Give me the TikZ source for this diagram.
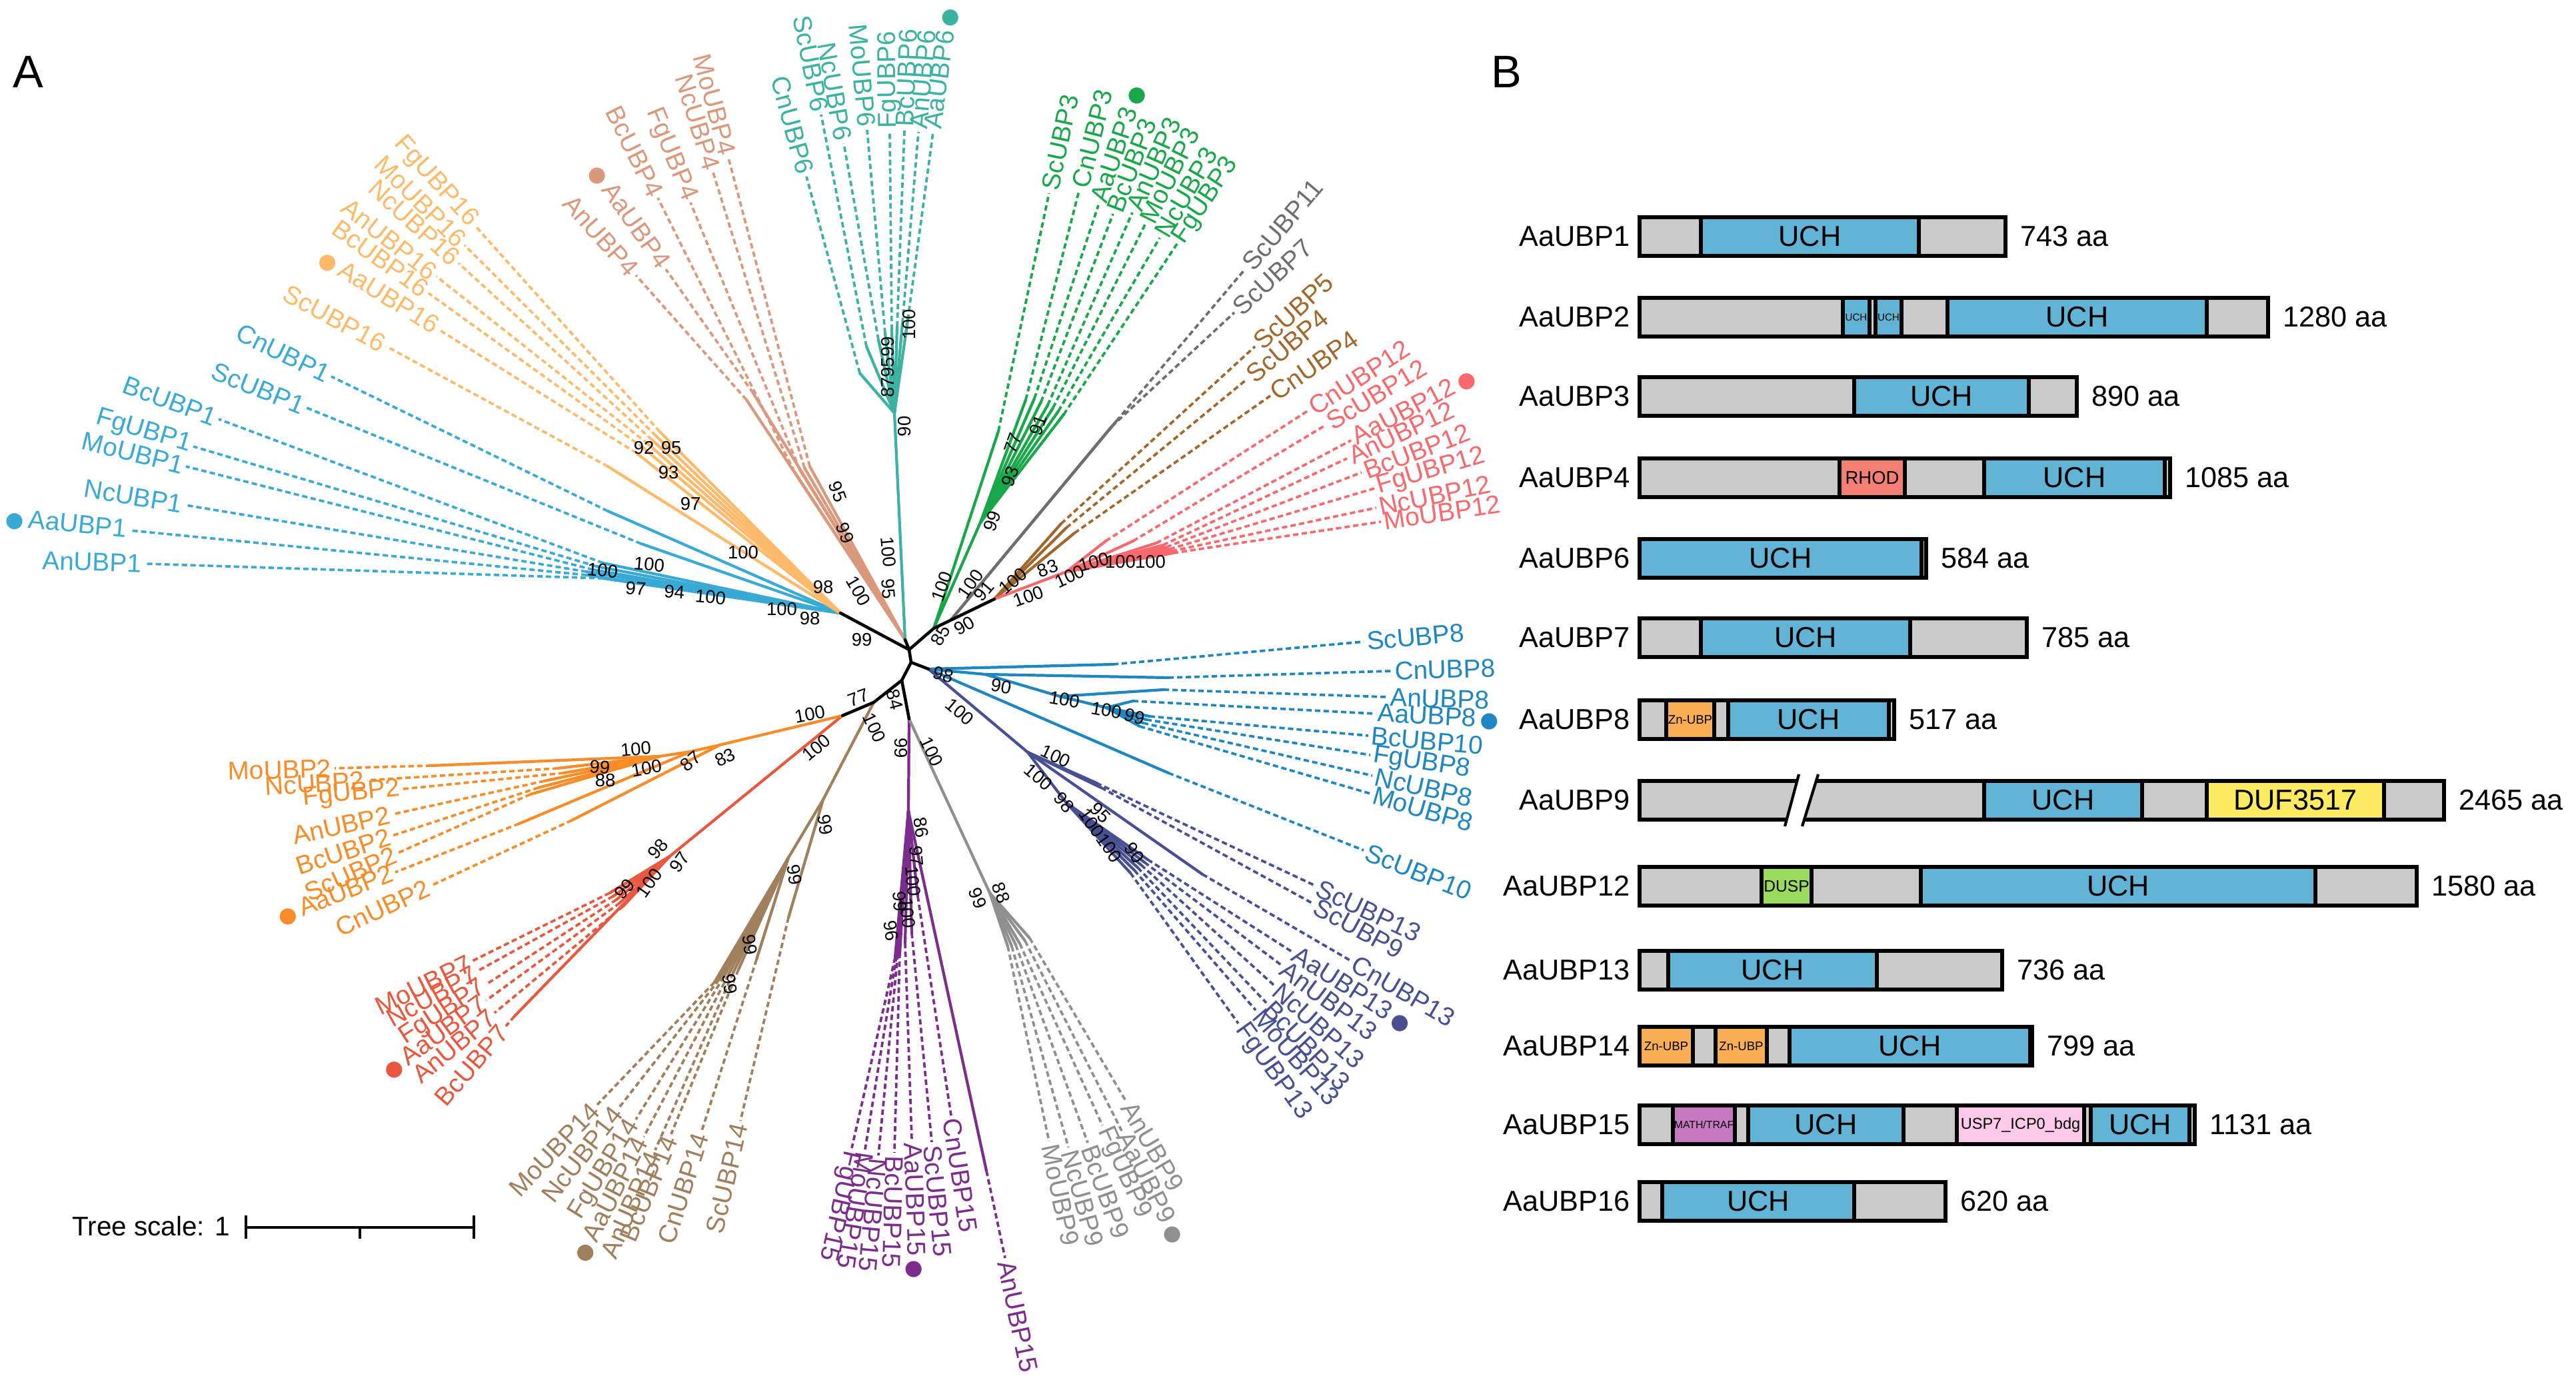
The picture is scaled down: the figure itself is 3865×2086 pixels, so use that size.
\documentclass[tikz,border=0pt]{standalone}
\usepackage{fontspec}
\setmainfont{Liberation Sans}
\newfontfamily\djv{DejaVu Sans}
\usetikzlibrary{calc}
\definecolor{c1}{HTML}{39AAD6}
\definecolor{c16}{HTML}{FDBA6B}
\definecolor{c4}{HTML}{DA987C}
\definecolor{c6}{HTML}{3CB2A0}
\definecolor{c3}{HTML}{18A84A}
\definecolor{c11}{HTML}{6E6E6E}
\definecolor{c5}{HTML}{A0682C}
\definecolor{c12}{HTML}{F8686C}
\definecolor{c8}{HTML}{1E86C1}
\definecolor{c13}{HTML}{495091}
\definecolor{c15}{HTML}{7B2C8C}
\definecolor{c9}{HTML}{8F8F8F}
\definecolor{c14}{HTML}{A0805C}
\definecolor{c7}{HTML}{E8583E}
\definecolor{c2}{HTML}{F88C28}
\definecolor{uch}{HTML}{62B4D6}
\definecolor{gr}{HTML}{CBCBCB}
\definecolor{rhod}{HTML}{F47F72}
\definecolor{znubp}{HTML}{F9AE54}
\definecolor{duf}{HTML}{FCEB62}
\definecolor{dusp}{HTML}{9ADB5C}
\definecolor{math}{HTML}{C77AC2}
\definecolor{usp}{HTML}{FDC9E9}
\newcounter{bsc}
\newcounter{sg}
\newcommand\dotc{{\djv\fontsize{9}{9}\selectfont ●}}
\tikzset{
  br/.style={line width=1.2pt, line cap=round},
  blk/.style={line width=1.3pt, black, line cap=round},
  dsh/.style={line width=1.05pt, dash pattern=on 2.3pt off 1.4pt},
  lab/.style={font=\fontsize{11}{11}\selectfont, inner sep=1.2pt},
  bs/.style={font=\fontsize{7.8}{7.8}\selectfont, inner sep=0pt},
  bl/.style={font=\fontsize{12.3}{12.3}\selectfont, inner sep=0pt},
  bar/.style={draw=black, line width=1.5pt},
}
% right-side leaf: colour, text, tip, label point, dot flag
\newcommand\lfR[5]{%
  \coordinate (t#2) at (#3); \coordinate (l#2) at (#4);
  \draw[#1,dsh] (t#2) -- (l#2);
  \path let \p1=($(l#2)-(t#2)$), \n1={atan2(\y1,\x1)} in
    node[lab,text=#1,anchor=west,rotate=\n1] (n#2) at (l#2) {#2\ifnum#5=1\,\dotc\fi};
}
% left-side leaf
\newcommand\lfL[5]{%
  \coordinate (t#2) at (#3); \coordinate (l#2) at (#4);
  \draw[#1,dsh] (t#2) -- (l#2);
  \path let \p1=($(l#2)-(t#2)$), \n1={atan2(\y1,\x1)+180} in
    node[lab,text=#1,anchor=east,rotate=\n1] (n#2) at (l#2) {\ifnum#5=1\dotc\,\fi#2};
}
\newcommand\bst[3]{\stepcounter{bsc}\node[bs,rotate=#2] (bs\arabic{bsc}) at (#1) {#3};}
\newcommand\seg[6]{\stepcounter{sg}\draw[bar,fill=#4] (#1,#3-29) rectangle (#2,#3+29);
  \node[inner sep=0pt,font=\fontsize{#6}{#6}\selectfont] (sg\arabic{sg}) at ({(#1+#2)/2},#3) {#5};}
\newcommand\prow[4]{%
  \node[bl,anchor=east] (B#1) at (2446,#2) {#1};
  \draw[bar,fill=gr] (2460,#2-29) rectangle (#3,#2+29);
  \node[bl,anchor=west] (aa#1) at ({#3+22},#2) {#4};}
\begin{document}
\begin{tikzpicture}[x=0.01cm,y=-0.01cm]
\useasboundingbox (0,0) rectangle (3865,2086);
\fill[white] (0,0) rectangle (3865,2086);
\node[font=\fontsize{19.5}{20}\selectfont, inner sep=0pt] (pA) at (42,108) {A};
\node[font=\fontsize{19.5}{20}\selectfont, inner sep=0pt] (pB) at (2260,108) {B};

% ---------------- internal nodes
\coordinate (A) at (1364,975);
\coordinate (B) at (1367,994);
\coordinate (UL) at (1261,920);
\coordinate (ST) at (1358,960);
\coordinate (G) at (1401,943);
\coordinate (GP) at (1427,930);
\coordinate (P) at (1492,899);
\coordinate (N8) at (1393,1004);
\coordinate (N84) at (1353,1021);
\coordinate (N77) at (1311,1054);
\coordinate (OR) at (1264,1074);
\coordinate (PG) at (1364,1079);
\coordinate (T6) at (1342,620);
\coordinate (G1) at (1471,784);
\coordinate (P1) at (1600,858);
\coordinate (B1) at (1478,1012);
\coordinate (B2) at (1590,1045);
\coordinate (B3) at (1660,1062);
\coordinate (M1) at (1542,1129);
\coordinate (M2) at (1600,1205);
\coordinate (U1) at (1363,1217);
\coordinate (Q9) at (1485,1340);
\coordinate (Q14) at (1235,1200);
\coordinate (Q14b) at (1183,1287);
\coordinate (R1) at (1005,1285);
\coordinate (O1) at (1080,1118);
\coordinate (O2) at (1036,1128);
\coordinate (O3) at (990,1135);

% ---------------- leaves
% UBP1
\lfL{c1}{CnUBP1}{912,767}{497,565}{0}
\lfL{c1}{ScUBP1}{962,816}{460,612}{0}
\lfL{c1}{BcUBP1}{905,845}{328,629}{0}
\lfL{c1}{FgUBP1}{895,850}{290,670}{0}
\lfL{c1}{MoUBP1}{890,855}{279,700}{0}
\lfL{c1}{NcUBP1}{880,858}{278,758}{0}
\lfL{c1}{AaUBP1}{880,863}{195,796}{1}
\lfL{c1}{AnUBP1}{905,868}{217,846}{0}
% UBP16
\lfL{c16}{FgUBP16}{990,648}{713,339}{0}
\lfL{c16}{MoUBP16}{984,654}{697,368}{0}
\lfL{c16}{NcUBP16}{978,660}{688,395}{0}
\lfL{c16}{AnUBP16}{972,666}{655,415}{0}
\lfL{c16}{BcUBP16}{965,672}{643,440}{0}
\lfL{c16}{AaUBP16}{955,680}{659,495}{1}
\lfL{c16}{ScUBP16}{912,700}{580,520}{0}
% UBP4
\lfL{c4}{MoUBP4}{1215,700}{1093,237}{0}
\lfL{c4}{NcUBP4}{1207,702}{1070,259}{0}
\lfL{c4}{FgUBP4}{1200,705}{1036,304}{0}
\lfL{c4}{BcUBP4}{1192,708}{987,297}{0}
\lfL{c4}{AaUBP4}{1130,590}{999,404}{1}
\lfL{c4}{AnUBP4}{1120,600}{954,413}{0}
% UBP6
\lfL{c6}{ScUBP6}{1300,520}{1232,172}{0}
\lfL{c6}{CnUBP6}{1290,560}{1210,265}{0}
\lfL{c6}{NcUBP6}{1318,510}{1266,215}{0}
\lfL{c6}{MoUBP6}{1328,500}{1301,195}{0}
\lfR{c6}{FgUBP6}{1338,495}{1335,198}{0}
\lfR{c6}{BcUBP6}{1346,490}{1357,195}{0}
\lfR{c6}{AnUBP6}{1354,485}{1378,198}{0}
\lfR{c6}{AaUBP6}{1362,480}{1400,198}{1}
% UBP3
\lfR{c3}{ScUBP3}{1498,647}{1574,290}{0}
\lfR{c3}{CnUBP3}{1539,600}{1619,286}{0}
\lfR{c3}{AaUBP3}{1552,598}{1648,308}{1}
\lfR{c3}{BcUBP3}{1562,603}{1670,321}{0}
\lfR{c3}{AnUBP3}{1572,608}{1699,319}{0}
\lfR{c3}{MoUBP3}{1580,612}{1718,337}{0}
\lfR{c3}{NcUBP3}{1588,617}{1740,357}{0}
\lfR{c3}{FgUBP3}{1596,622}{1766,366}{0}
% UBP11/7
\lfR{c11}{ScUBP11}{1675,632}{1868,404}{0}
\lfR{c11}{ScUBP7}{1668,640}{1852,469}{0}
% UBP5/4
\lfR{c5}{ScUBP5}{1592,786}{1883,520}{0}
\lfR{c5}{ScUBP4}{1600,792}{1871,569}{0}
\lfR{c5}{CnUBP4}{1612,800}{1906,594}{0}
% UBP12
\lfR{c12}{CnUBP12}{1659,812}{1963,616}{0}
\lfR{c12}{ScUBP12}{1700,812}{1989,638}{0}
\lfR{c12}{AaUBP12}{1735,815}{2027,661}{1}
\lfR{c12}{AnUBP12}{1745,818}{2021,688}{0}
\lfR{c12}{BcUBP12}{1750,821}{2043,709}{0}
\lfR{c12}{FgUBP12}{1755,824}{2062,733}{0}
\lfR{c12}{NcUBP12}{1758,827}{2065,762}{0}
\lfR{c12}{MoUBP12}{1760,830}{2072,783}{0}
% UBP8
\lfR{c8}{ScUBP8}{1670,997}{2046,963}{0}
\lfR{c8}{CnUBP8}{1753,1017}{2088,1007}{0}
\lfR{c8}{AnUBP8}{1746,1035}{2081,1046}{0}
\lfR{c8}{AaUBP8}{1700,1052}{2062,1071}{1}
\lfR{c8}{BcUBP10}{1725,1075}{2053,1104}{0}
\lfR{c8}{FgUBP8}{1720,1080}{2056,1133}{0}
\lfR{c8}{NcUBP8}{1715,1085}{2059,1164}{0}
\lfR{c8}{MoUBP8}{1710,1090}{2056,1191}{0}
\lfR{c8}{ScUBP10}{1753,1160}{2046,1276}{0}
% UBP13
\lfR{c13}{ScUBP13}{1645,1175}{1973,1329}{0}
\lfR{c13}{ScUBP9}{1652,1182}{1970,1356}{0}
\lfR{c13}{CnUBP13}{1804,1312}{2027,1442}{0}
\lfR{c13}{AaUBP13}{1722,1290}{1938,1428}{1}
\lfR{c13}{AnUBP13}{1717,1294}{1922,1448}{0}
\lfR{c13}{NcUBP13}{1712,1298}{1912,1479}{0}
\lfR{c13}{BcUBP13}{1707,1302}{1900,1505}{0}
\lfR{c13}{MoUBP13}{1702,1306}{1884,1516}{0}
\lfR{c13}{FgUBP13}{1696,1310}{1858,1536}{0}
% UBP15
\lfR{c15}{FgUBP15}{1343,1437}{1278,1723}{0}
\lfR{c15}{MoUBP15}{1345,1435}{1298,1725}{0}
\lfR{c15}{NcUBP15}{1347,1432}{1318,1734}{0}
\lfR{c15}{BcUBP15}{1350,1430}{1342,1730}{0}
\lfR{c15}{AaUBP15}{1358,1415}{1368,1710}{1}
\lfR{c15}{ScUBP15}{1368,1400}{1398,1714}{0}
\lfR{c15}{CnUBP15}{1377,1345}{1427,1674}{0}
\lfR{c15}{AnUBP15}{1480,1757}{1508,1888}{0}
% UBP9
\lfR{c9}{MoUBP9}{1512,1420}{1574,1713}{0}
\lfR{c9}{NcUBP9}{1518,1420}{1603,1722}{0}
\lfR{c9}{BcUBP9}{1524,1418}{1632,1715}{0}
\lfR{c9}{FgUBP9}{1530,1416}{1654,1689}{0}
\lfR{c9}{AaUBP9}{1538,1412}{1683,1697}{1}
\lfR{c9}{AnUBP9}{1545,1408}{1689,1652}{0}
% UBP14
\lfL{c14}{ScUBP14}{1183,1377}{1111,1682}{0}
\lfL{c14}{CnUBP14}{1135,1440}{1053,1697}{0}
\lfL{c14}{BcUBP14}{1108,1455}{1007,1702}{0}
\lfL{c14}{AnUBP14}{1100,1460}{983,1726}{0}
\lfL{c14}{AaUBP14}{1093,1463}{966,1706}{1}
\lfL{c14}{FgUBP14}{1086,1466}{954,1680}{0}
\lfL{c14}{NcUBP14}{1079,1470}{929,1662}{0}
\lfL{c14}{MoUBP14}{1072,1474}{896,1658}{0}
% UBP7
\lfL{c7}{MoUBP7}{915,1340}{709,1442}{0}
\lfL{c7}{NcUBP7}{920,1345}{717,1457}{0}
\lfL{c7}{FgUBP7}{925,1350}{730,1477}{0}
\lfL{c7}{AaUBP7}{930,1355}{730,1501}{1}
\lfL{c7}{AnUBP7}{935,1360}{742,1520}{0}
\lfL{c7}{BcUBP7}{772,1525}{759,1540}{0}
% UBP2
\lfL{c2}{MoUBP2}{647,1149}{502,1153}{0}
\lfL{c2}{NcUBP2}{837,1153}{551,1171}{0}
\lfL{c2}{FgUBP2}{846,1160}{605,1184}{0}
\lfL{c2}{AnUBP2}{817,1172}{589,1222}{0}
\lfL{c2}{BcUBP2}{808,1182}{589,1254}{0}
\lfL{c2}{ScUBP2}{796,1192}{597,1280}{0}
\lfL{c2}{AaUBP2}{779,1236}{593,1309}{1}
\lfL{c2}{CnUBP2}{858,1231}{647,1329}{0}

% ---------------- solid branches
\foreach \n in {CnUBP1,ScUBP1,BcUBP1,FgUBP1,MoUBP1,NcUBP1,AaUBP1,AnUBP1} \draw[br,c1] (UL) -- (t\n);
\foreach \n in {FgUBP16,MoUBP16,NcUBP16,AnUBP16,BcUBP16,AaUBP16,ScUBP16} \draw[br,c16] (UL) -- (t\n);
\foreach \n in {MoUBP4,NcUBP4,FgUBP4,BcUBP4,AaUBP4,AnUBP4} \draw[br,c4] (ST) -- (t\n);
\draw[br,c6] (ST) -- (T6);
\foreach \n in {ScUBP6,CnUBP6,NcUBP6,MoUBP6,FgUBP6,BcUBP6,AnUBP6,AaUBP6} \draw[br,c6] (T6) -- (t\n);
\draw[br,c3] (G) -- (tScUBP3);
\draw[br,c3] (G) -- (G1);
\foreach \n in {CnUBP3,AaUBP3,BcUBP3,AnUBP3,MoUBP3,NcUBP3,FgUBP3} \draw[br,c3] (G1) -- (t\n);
\foreach \n in {ScUBP11,ScUBP7} \draw[br,c11] (GP) -- (t\n);
\foreach \n in {ScUBP5,ScUBP4,CnUBP4} \draw[br,c5] (P) -- (t\n);
\draw[br,c12] (P) -- (P1);
\foreach \n in {CnUBP12,ScUBP12,AaUBP12,AnUBP12,BcUBP12,FgUBP12,NcUBP12,MoUBP12} \draw[br,c12] (P1) -- (t\n);
\draw[br,c8] (N8) -- (tScUBP8);
\draw[br,c8] (N8) -- (B1);
\draw[br,c8] (B1) -- (tCnUBP8);
\draw[br,c8] (B1) -- (B2);
\draw[br,c8] (B2) -- (tAnUBP8);
\draw[br,c8] (B2) -- (B3);
\foreach \n in {AaUBP8,BcUBP10,FgUBP8,NcUBP8,MoUBP8} \draw[br,c8] (B3) -- (t\n);
\draw[br,c8] (N8) -- (tScUBP10);
\draw[br,c13] (N8) -- (M1);
\foreach \n in {ScUBP13,ScUBP9,CnUBP13} \draw[br,c13] (M1) -- (t\n);
\draw[br,c13] (M1) -- (M2);
\foreach \n in {AaUBP13,AnUBP13,NcUBP13,BcUBP13,MoUBP13,FgUBP13} \draw[br,c13] (M2) -- (t\n);
\draw[br,c15] (PG) -- (U1);
\foreach \n in {FgUBP15,MoUBP15,NcUBP15,BcUBP15,AaUBP15,ScUBP15,CnUBP15,AnUBP15} \draw[br,c15] (U1) -- (t\n);
\draw[br,c9] (PG) -- (Q9);
\foreach \n in {MoUBP9,NcUBP9,BcUBP9,FgUBP9,AaUBP9,AnUBP9} \draw[br,c9] (Q9) -- (t\n);
\draw[br,c14] (N77) -- (Q14);
\draw[br,c14] (Q14) -- (tScUBP14);
\draw[br,c14] (Q14) -- (Q14b);
\foreach \n in {CnUBP14,BcUBP14,AnUBP14,AaUBP14,FgUBP14,NcUBP14,MoUBP14} \draw[br,c14] (Q14b) -- (t\n);
\draw[br,c7] (OR) -- (R1);
\foreach \n in {MoUBP7,NcUBP7,FgUBP7,AaUBP7,AnUBP7,BcUBP7} \draw[br,c7] (R1) -- (t\n);
\draw[br,c2] (OR) -- (O1);
\draw[br,c2] (O1) -- (tCnUBP2);
\draw[br,c2] (O1) -- (O2);
\draw[br,c2] (O2) -- (tAaUBP2);
\draw[br,c2] (O2) -- (O3);
\foreach \n in {MoUBP2,NcUBP2,FgUBP2,AnUBP2,BcUBP2,ScUBP2} \draw[br,c2] (O3) -- (t\n);
% black backbone
\draw[blk] (UL) -- (A) -- (B) -- (N84) -- (N77) -- (OR);
\draw[blk] (A) -- (ST);
\draw[blk] (A) -- (G) -- (P);
\draw[blk] (B) -- (N8);
\draw[blk] (N84) -- (PG);

% ---------------- bootstrap values
\bst{1293,960}{0}{99}
\bst{1235,881}{0}{98}
\bst{1215,928}{0}{98}
\bst{1173,914}{0}{100}
\bst{1066,896}{-5}{100}
\bst{1012,888}{-5}{94}
\bst{954,883}{-5}{97}
\bst{904,856}{-5}{100}
\bst{974,847}{-5}{100}
\bst{1115,829}{0}{100}
\bst{1036,756}{0}{97}
\bst{1003,709}{0}{93}
\bst{966,672}{0}{92}
\bst{1007,672}{0}{95}
\bst{1288,887}{-60}{100}
\bst{1268,800}{-70}{99}
\bst{1257,738}{-70}{95}
\bst{1333,828}{-85}{100}
\bst{1333,884}{-85}{95}
\bst{1357,640}{90}{90}
\bst{1332,551}{90}{879599}
\bst{1364,487}{90}{100}
\bst{1411,954}{60}{85}
\bst{1447,939}{30}{90}
\bst{1413,880}{70}{100}
\bst{1456,876}{55}{100}
\bst{1489,782}{70}{99}
\bst{1516,715}{70}{93}
\bst{1520,665}{70}{77}
\bst{1558,638}{70}{91}
\bst{1476,887}{50}{91}
\bst{1520,872}{40}{100}
\bst{1572,853}{20}{83}
\bst{1543,895}{20}{100}
\bst{1605,865}{25}{100}
\bst{1641,843}{15}{100}
\bst{1681,843}{0}{100}
\bst{1726,843}{0}{100}
\bst{1415,1012}{-15}{98}
\bst{1502,1030}{-10}{90}
\bst{1597,1050}{-10}{100}
\bst{1660,1066}{-10}{100}
\bst{1702,1075}{-15}{99}
\bst{1440,1068}{-40}{100}
\bst{1584,1135}{-25}{100}
\bst{1558,1166}{-40}{100}
\bst{1597,1204}{-50}{98}
\bst{1651,1220}{-45}{95}
\bst{1651,1254}{-55}{100100}
\bst{1702,1280}{-55}{90}
\bst{1343,1050}{-75}{84}
\bst{1288,1047}{20}{77}
\bst{1215,1072}{10}{100}
\bst{1225,1122}{40}{100}
\bst{1312,1092}{-65}{100}
\bst{1352,1123}{-90}{99}
\bst{1398,1128}{-65}{100}
\bst{1382,1242}{-80}{86}
\bst{1375,1285}{-85}{97}
\bst{1370,1322}{-85}{100}
\bst{1350,1353}{-85}{99}
\bst{1362,1370}{-85}{100}
\bst{1337,1397}{-80}{96}
\bst{1467,1348}{-70}{99}
\bst{1502,1340}{-70}{88}
\bst{1238,1238}{-80}{99}
\bst{1192,1313}{-80}{99}
\bst{1125,1418}{-80}{99}
\bst{1095,1477}{-80}{99}
\bst{987,1274}{50}{98}
\bst{1020,1294}{55}{97}
\bst{937,1334}{50}{99}
\bst{974,1325}{55}{100}
\bst{954,1124}{5}{100}
\bst{900,1151}{-5}{99}
\bst{970,1153}{10}{100}
\bst{908,1171}{0}{88}
\bst{1036,1142}{40}{87}
\bst{1088,1137}{25}{83}

% ---------------- tree scale
\node[anchor=west, inner sep=0pt, font=\fontsize{11.5}{11.5}\selectfont] (ts) at (108,1840) {Tree scale: 1};
\coordinate (sb1) at (369,1842);
\coordinate (sb2) at (711,1842);
\coordinate (sbm) at (540,1842);
\draw[line width=1.1pt] (sb1) -- (sb2);
\draw[line width=1.1pt] ($(sb1)+(0,-18)$) -- ($(sb1)+(0,17)$);
\draw[line width=1.1pt] ($(sb2)+(0,-18)$) -- ($(sb2)+(0,17)$);
\draw[line width=1.1pt] (sbm) -- ($(sbm)+(0,17)$);

% ---------------- panel B
\prow{AaUBP1}{355}{3009}{743 aa}
\seg{2552}{2879}{355}{uch}{UCH}{12.3}
\prow{AaUBP2}{476}{3403}{1280 aa}
\seg{2765}{2805}{476}{uch}{UCH}{4.3}
\seg{2814}{2853}{476}{uch}{UCH}{4.3}
\seg{2922}{3311}{476}{uch}{UCH}{12.3}
\prow{AaUBP3}{595}{3116}{890 aa}
\seg{2782}{3044}{595}{uch}{UCH}{12.3}
\prow{AaUBP4}{717}{3256}{1085 aa}
\seg{2760}{2858}{717}{rhod}{RHOD}{7.8}
\seg{2977}{3248}{717}{uch}{UCH}{12.3}
\prow{AaUBP6}{838}{2890}{584 aa}
\seg{2460}{2883}{838}{uch}{UCH}{12.3}
\prow{AaUBP7}{957}{3041}{785 aa}
\seg{2552}{2866}{957}{uch}{UCH}{12.3}
\prow{AaUBP8}{1080}{2842}{517 aa}
\seg{2500}{2572}{1080}{znubp}{Zn-UBP}{5.3}
\seg{2593}{2834}{1080}{uch}{UCH}{12.3}
\prow{AaUBP9}{1201}{3667}{2465 aa}
\seg{2977}{3214}{1201}{uch}{UCH}{12.3}
\seg{3311}{3577}{1201}{duf}{DUF3517}{12.3}
\fill[white] (2699,1162) -- (2728,1162) -- (2704,1240) -- (2678,1240) -- cycle;
\draw[line width=1.2pt] (2699,1162) -- (2678,1240);
\draw[line width=1.2pt] (2728,1162) -- (2704,1240);
\prow{AaUBP12}{1330}{3626}{1580 aa}
\seg{2643}{2718}{1330}{dusp}{DUSP}{7}
\seg{2882}{3474}{1330}{uch}{UCH}{12.3}
\prow{AaUBP13}{1456}{3004}{736 aa}
\seg{2503}{2816}{1456}{uch}{UCH}{12.3}
\prow{AaUBP14}{1570}{3049}{799 aa}
\seg{2460}{2540}{1570}{znubp}{Zn-UBP}{5.3}
\seg{2574}{2651}{1570}{znubp}{Zn-UBP}{5.3}
\seg{2685}{3046}{1570}{uch}{UCH}{12.3}
\prow{AaUBP15}{1688}{3293}{1131 aa}
\seg{2510}{2603}{1688}{math}{MATH/TRAF}{4.5}
\seg{2623}{2856}{1688}{uch}{UCH}{12.3}
\seg{2936}{3127}{1688}{usp}{USP7\_ICP0\_bdg}{6.7}
\seg{3137}{3285}{1688}{uch}{UCH}{12.3}
\prow{AaUBP16}{1803}{2919}{620 aa}
\seg{2494}{2782}{1803}{uch}{UCH}{12.3}
\end{tikzpicture}
\end{document}
